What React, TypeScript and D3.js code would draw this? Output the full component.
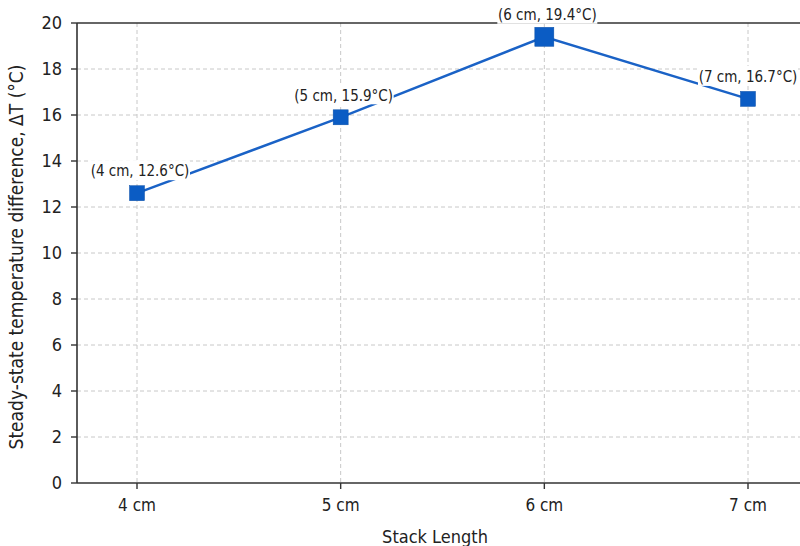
import React from "react";
import * as d3 from "d3";

const categories = ["4 cm", "5 cm", "6 cm", "7 cm"];
const deltaT = [12.6, 15.9, 19.4, 16.7];
const pointLabels = ["(4 cm, 12.6°C)", "(5 cm, 15.9°C)", "(6 cm, 19.4°C)", "(7 cm, 16.7°C)"];
const yTicks = [0, 2, 4, 6, 8, 10, 12, 14, 16, 18, 20];

const W = 800;
const H = 546;
const left = 77;
const top = 23;
const bottom = 483;
const FONT = "'Liberation Sans Narrow', 'DejaVu Sans Condensed', 'Roboto Condensed', sans-serif";
const BLUE = "#0b5cc4";

export default function App() {
  const x = d3.scalePoint<string>().domain(categories).range([137, 748]);
  const y = d3.scaleLinear().domain([0, 20]).range([bottom, top]);
  const maxVal = d3.max(deltaT) as number;

  const line = d3
    .line<number>()
    .x((_, i) => x(categories[i]) as number)
    .y((d) => y(d));

  return (
    <svg
      width={W}
      height={H}
      style={{ position: "absolute", left: 0, top: 0, background: "#fff", fontFamily: FONT }}
    >
      {/* grid */}
      {yTicks.slice(1, -1).map((t) => (
        <line key={"gy" + t} x1={left} x2={W} y1={y(t)} y2={y(t)} stroke="#c8c8c8" strokeWidth={1} strokeDasharray="4,3" />
      ))}
      {categories.map((c) => (
        <line key={"gx" + c} x1={x(c)} x2={x(c)} y1={top} y2={bottom} stroke="#c8c8c8" strokeWidth={1} strokeDasharray="4,3" />
      ))}

      {/* frame */}
      <line x1={left} x2={W} y1={top} y2={top} stroke="#333" strokeWidth={1.6} />
      <line x1={left} x2={left} y1={top} y2={bottom} stroke="#333" strokeWidth={1.6} />
      <line x1={left} x2={W} y1={bottom} y2={bottom} stroke="#333" strokeWidth={1.6} />

      {/* y axis */}
      {yTicks.map((t) => (
        <g key={"ty" + t}>
          <line x1={left - 6} x2={left} y1={y(t)} y2={y(t)} stroke="#333" strokeWidth={1.4} />
          <text x={left - 15} y={y(t)} dy="0.35em" textAnchor="end" fontSize={18} fill="#222">
            {t}
          </text>
        </g>
      ))}
      <text
        transform={`translate(23,${(top + bottom) / 2 + 4}) rotate(-90)`}
        textAnchor="middle"
        fontSize={19}
        fill="#222"
      >
        Steady-state temperature difference, ΔT (°C)
      </text>

      {/* x axis */}
      {categories.map((c) => (
        <g key={"tx" + c}>
          <line x1={x(c)} x2={x(c)} y1={bottom} y2={bottom + 6} stroke="#333" strokeWidth={1.4} />
          <text x={x(c)} y={bottom + 28} textAnchor="middle" fontSize={17} fill="#222">
            {c}
          </text>
        </g>
      ))}
      <text x={435} y={543} textAnchor="middle" fontSize={18} fill="#222">
        Stack Length
      </text>

      {/* series */}
      <path d={line(deltaT) ?? ""} fill="none" stroke="#1a62c6" strokeWidth={2.4} />
      {deltaT.map((v, i) => {
        const s = v === maxVal ? 19 : 15;
        const cx = x(categories[i]) as number;
        return (
          <rect key={"m" + i} x={cx - s / 2} y={y(v) - s / 2} width={s} height={s} fill={BLUE} stroke="#0a4fa8" strokeWidth={0.5} />
        );
      })}

      {/* value labels */}
      {deltaT.map((v, i) => {
        const w = 100;
        const cx = Math.min((x(categories[i]) as number) + 3, W - w / 2 - 2);
        const cy = y(v) - 22;
        return (
          <g key={"l" + i}>
            <rect x={cx - w / 2} y={cy - 11} width={w} height={20} fill="#fff" />
            <text x={cx} y={cy} dy="0.35em" textAnchor="middle" fontSize={15} fill="#222">
              {pointLabels[i]}
            </text>
          </g>
        );
      })}
    </svg>
  );
}
